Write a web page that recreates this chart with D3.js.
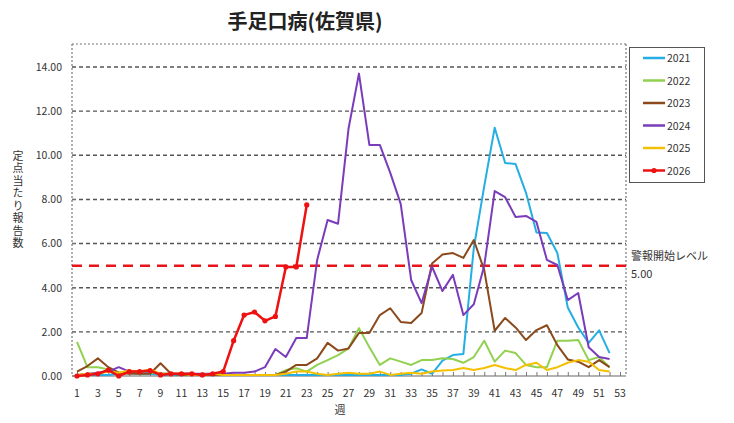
<!DOCTYPE html>
<html><head><meta charset="utf-8">
<script src="https://cdn.jsdelivr.net/npm/d3@7"></script>
<style>
body{margin:0;background:#fff;}
svg{display:block;font-family:"Noto Sans CJK JP","Noto Sans",sans-serif;}
</style></head>
<body><svg id="c" width="734" height="423"></svg>
<script>
const weeks = d3.range(1, 53);
const xTicks = d3.range(1, 54, 2);
const yTicks = [0, 2, 4, 6, 8, 10, 12, 14];
const years = ["2021", "2022", "2023", "2024", "2025", "2026"];
const colors = ["#25aee3", "#92d050", "#8b4a1c", "#7a3cba", "#f5c000", "#ee1111"];
const alertLevel = 5.0;

const v2021 = [0.05,0.05,0.05,0.05,0.1,0.15,0.1,0.1,0.05,0.05,0.05,0.05,0.05,0.05,0.05,0.05,0.05,0.05,0.05,0.05,0.05,0.05,0.05,0.05,0.05,0.05,0.05,0.05,0.05,0.05,0.05,0.05,0.1,0.3,0.1,0.7,0.95,1.0,5.8,8.6,11.25,9.65,9.6,8.3,6.5,6.48,5.57,3.1,2.2,1.5,2.07,1.04];
const v2022 = [1.55,0.4,0.4,0.3,0.15,0.2,0.1,0.15,0.1,0.1,0.1,0.1,0.05,0.05,0.05,0.05,0.05,0.05,0.05,0.05,0.27,0.35,0.2,0.5,0.72,0.95,1.25,2.17,1.3,0.5,0.8,0.65,0.5,0.72,0.72,0.8,0.77,0.6,0.86,1.6,0.65,1.15,1.04,0.5,0.4,0.4,1.6,1.6,1.63,0.72,0.86,0.4];
const v2023 = [0.2,0.45,0.8,0.4,0.15,0.1,0.1,0.1,0.58,0.1,0.05,0.05,0.05,0.05,0.05,0.05,0.05,0.05,0.05,0.05,0.2,0.5,0.5,0.8,1.5,1.15,1.25,1.95,1.95,2.76,3.07,2.45,2.4,2.85,5.1,5.5,5.57,5.35,6.16,4.8,2.05,2.63,2.2,1.63,2.08,2.3,1.4,0.75,0.65,0.4,0.72,0.4];
const v2024 = [0.05,0.1,0.15,0.2,0.4,0.2,0.2,0.2,0.1,0.1,0.1,0.1,0.1,0.1,0.1,0.15,0.15,0.2,0.4,1.22,0.86,1.72,1.72,5.26,7.07,6.9,11.2,13.7,10.47,10.47,9.2,7.8,4.35,3.3,4.95,3.85,4.58,2.76,3.25,5.0,8.38,8.1,7.2,7.25,6.98,5.26,5.03,3.44,3.76,1.3,0.86,0.77];
const v2025 = [0.05,0.1,0.1,0.2,0.15,0.25,0.2,0.3,0.1,0.1,0.1,0.05,0.05,0.1,0.05,0.05,0.05,0.05,0.05,0.05,0.1,0.2,0.2,0.1,0.05,0.1,0.15,0.1,0.1,0.2,0.05,0.1,0.15,0.1,0.2,0.25,0.27,0.36,0.27,0.36,0.5,0.36,0.27,0.5,0.6,0.27,0.4,0.6,0.72,0.65,0.27,0.2];
const v2026 = [0,0.05,0.1,0.27,0,0.2,0.2,0.25,0.05,0.1,0.1,0.1,0.05,0.1,0.2,1.6,2.76,2.9,2.5,2.7,4.94,4.94,7.75];
const seriesValues = [v2021, v2022, v2023, v2024, v2025, v2026];

const svg = d3.select("#c");
const plot = {left: 72, right: 626, top: 44, bottom: 376};
const x = d3.scaleLinear().domain([1, 53]).range([77, 620]);
const y = d3.scaleLinear().domain([0, 14]).range([376, 67]);

// title
svg.append("text").attr("x", 305).attr("y", 29).attr("text-anchor", "middle")
  .attr("font-size", 20).attr("font-weight", "bold").attr("fill", "#222").text("手足口病(佐賀県)");

// grid lines
svg.append("g").selectAll("line").data(yTicks.filter(d => d > 0)).join("line")
  .attr("x1", plot.left).attr("x2", plot.right).attr("y1", d => y(d)).attr("y2", d => y(d))
  .attr("stroke", "#555").attr("stroke-width", 1.4).attr("stroke-dasharray", "4,3");

// border
const bd = svg.append("g").attr("stroke", "#777").attr("stroke-width", 1.2).attr("stroke-dasharray", "2,2").attr("fill", "none");
bd.append("line").attr("x1", plot.left).attr("x2", plot.right).attr("y1", plot.top).attr("y2", plot.top);
bd.append("line").attr("x1", plot.left).attr("x2", plot.left).attr("y1", plot.top).attr("y2", plot.bottom);
bd.append("line").attr("x1", plot.right).attr("x2", plot.right).attr("y1", plot.top).attr("y2", plot.bottom);
svg.append("line").attr("x1", plot.left).attr("x2", plot.right).attr("y1", plot.bottom).attr("y2", plot.bottom)
  .attr("stroke", "#666").attr("stroke-width", 1.2);

// x axis
const xAxis = svg.append("g").attr("transform", `translate(0,${plot.bottom})`)
  .call(d3.axisBottom(x).tickValues(d3.range(1, 54)).tickSize(-4).tickFormat(""));
xAxis.select(".domain").remove();
xAxis.selectAll("line").attr("stroke", "#777");
svg.append("g").selectAll("text").data(xTicks).join("text")
  .attr("x", d => x(d)).attr("y", 397).attr("text-anchor", "middle")
  .attr("font-size", 10.5).attr("fill", "#333").text(d => d);
svg.append("text").attr("x", 340).attr("y", 414).attr("text-anchor", "middle")
  .attr("font-size", 11).attr("fill", "#333").text("週");

// y axis
const yAxis = svg.append("g").attr("transform", `translate(${plot.left},0)`)
  .call(d3.axisLeft(y).tickValues(yTicks).tickSize(0).tickPadding(10).tickFormat(d3.format(".2f")));
yAxis.select(".domain").remove();
yAxis.selectAll("text").attr("font-size", 10.5).attr("fill", "#333").attr("font-family", "'Noto Sans CJK JP', sans-serif");
svg.append("g").selectAll("line").data(yTicks).join("line")
  .attr("x1", plot.left).attr("x2", plot.left + 4).attr("y1", d => y(d)).attr("y2", d => y(d))
  .attr("stroke", "#777");

// vertical y-axis title
svg.append("text").attr("x", 18).attr("y", 150)
  .attr("writing-mode", "vertical-rl").style("text-orientation", "upright")
  .attr("font-size", 11).attr("letter-spacing", 1.5).attr("fill", "#333").text("定点当たり報告数");

// alert line
svg.append("line").attr("x1", plot.left).attr("x2", plot.right).attr("y1", y(alertLevel)).attr("y2", y(alertLevel))
  .attr("stroke", "#e8141b").attr("stroke-width", 2.5).attr("stroke-dasharray", "10,7");
svg.append("text").attr("x", 631).attr("y", 260).attr("font-size", 11).attr("fill", "#333").text("警報開始レベル");
svg.append("text").attr("x", 631).attr("y", 278).attr("font-size", 11).attr("fill", "#333").text(d3.format(".2f")(alertLevel));

// series
const line = d3.line().x((d, i) => x(i + 1)).y(d => y(d));
seriesValues.forEach((vals, k) => {
  svg.append("path").datum(vals).attr("d", line).attr("fill", "none")
    .attr("stroke", colors[k]).attr("stroke-width", k === 5 ? 2.5 : 2).attr("stroke-linejoin", "round");
});
svg.append("g").selectAll("circle").data(v2026).join("circle")
  .attr("cx", (d, i) => x(i + 1)).attr("cy", d => y(d)).attr("r", 2.6).attr("fill", colors[5]);

// legend
svg.append("rect").attr("x", 629.5).attr("y", 47.5).attr("width", 75).attr("height", 135)
  .attr("fill", "#fff").attr("stroke", "#555").attr("stroke-width", 1);
const lg = svg.append("g").selectAll("g").data(years).join("g")
  .attr("transform", (d, i) => `translate(0,${58 + i * 22.5})`);
lg.append("line").attr("x1", 643).attr("x2", 665).attr("y1", 0).attr("y2", 0)
  .attr("stroke", (d, i) => colors[i]).attr("stroke-width", 2.5);
lg.filter((d, i) => i === 5).append("circle").attr("cx", 654).attr("cy", 0).attr("r", 2.6).attr("fill", colors[5]);
lg.append("text").attr("x", 667).attr("y", 4).attr("font-size", 10.5).attr("fill", "#333").text(d => d);
</script></body></html>
